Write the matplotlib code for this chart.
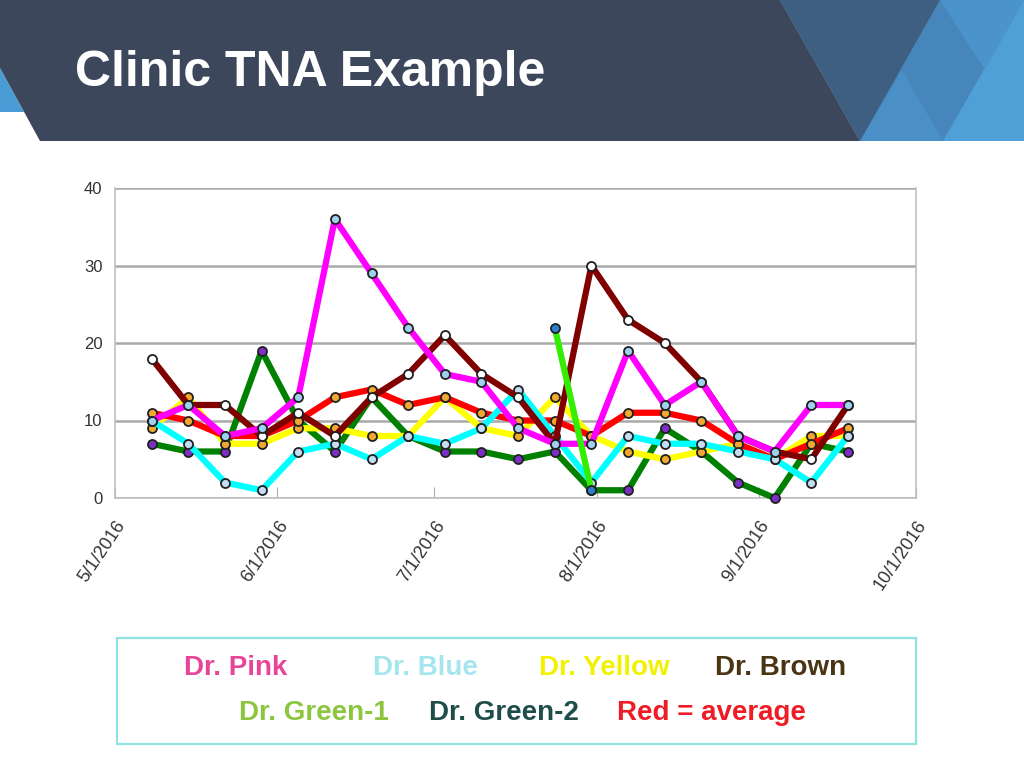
import matplotlib
matplotlib.use('Agg')
import matplotlib.pyplot as plt
from matplotlib.patches import Polygon, Rectangle
import numpy as np
import datetime as dt

nan = np.nan

# ---------------- data ----------------
date_strings = ['2016-05-08', '2016-05-15', '2016-05-22', '2016-05-29', '2016-06-05',
                '2016-06-12', '2016-06-19', '2016-06-26', '2016-07-03', '2016-07-10',
                '2016-07-17', '2016-07-24', '2016-07-31', '2016-08-07', '2016-08-14',
                '2016-08-21', '2016-08-28', '2016-09-04', '2016-09-11', '2016-09-18']

dr_pink = [10, 12, 8, 9, 13, 36, 29, 22, 16, 15, 9, 7, 7, 19, 12, 15, 8, 6, 12, 12]
dr_blue = [10, 7, 2, 1, 6, 7, 5, 8, 7, 9, 14, 8, 2, 8, 7, 7, 6, 5, 2, 8]
dr_yellow = [9, 13, 7, 7, 9, 9, 8, 8, 13, 9, 8, 13, 8, 6, 5, 6, 7, 5, 8, 8]
dr_brown = [18, 12, 12, 8, 11, 8, 13, 16, 21, 16, 13, 7, 30, 23, 20, 15, 8, 6, 5, 12]
dr_green1 = [nan, nan, nan, nan, nan, nan, nan, nan, nan, nan, nan, 22, 1, nan, nan, nan, nan, nan, nan, nan]
dr_green2 = [7, 6, 6, 19, 10, 6, 13, 8, 6, 6, 5, 6, 1, 1, 9, 6, 2, 0, 7, 6]
average = [11, 10, 8, 8, 10, 13, 14, 12, 13, 11, 10, 10, 8, 11, 11, 10, 7, 5, 7, 9]

tick_dates = ['2016-05-01', '2016-06-01', '2016-07-01', '2016-08-01', '2016-09-01', '2016-10-01']
tick_labels = ['5/1/2016', '6/1/2016', '7/1/2016', '8/1/2016', '9/1/2016', '10/1/2016']
y_ticks = [0, 10, 20, 30, 40]

legend_row1 = ['Dr. Pink', 'Dr. Blue', 'Dr. Yellow', 'Dr. Brown']
legend_row2 = ['Dr. Green-1', 'Dr. Green-2', 'Red = average']

title = 'Clinic TNA Example'

# ---------------- figure ----------------
FONT = ['Liberation Sans', 'DejaVu Sans']
plt.rcParams['font.family'] = FONT

fig = plt.figure(figsize=(10.24, 7.68), dpi=100)
fig.patch.set_facecolor('white')

bg = fig.add_axes([0, 0, 1, 1])
bg.set_xlim(0, 1024)
bg.set_ylim(768, 0)
bg.axis('off')

# header shapes
bg.add_patch(Polygon([(0, 68), (0, 112), (24, 112)], closed=True, fc='#4a9bd5', ec='none'))
bg.add_patch(Polygon([(780, 0), (1024, 0), (1024, 141), (860, 141)], closed=True, fc='#4686bb', ec='none'))
bg.add_patch(Polygon([(780, 0), (940, 0), (860, 141)], closed=True, fc='#3f5f82', ec='none'))
bg.add_patch(Polygon([(860, 141), (943, 141), (902, 70)], closed=True, fc='#4a8fc6', ec='none'))
bg.add_patch(Polygon([(943, 141), (1024, 0), (1024, 141)], closed=True, fc='#50a0d8', ec='none'))
bg.add_patch(Polygon([(940, 0), (1024, 0), (985, 70)], closed=True, fc='#4b93cb', ec='none'))
bg.add_patch(Polygon([(0, 0), (780, 0), (860, 141), (40, 141), (0, 68)], closed=True,
                     fc='#3c475c', ec='none'))
bg.text(75, 86, title, color='white', fontsize=36, fontweight='bold',
        va='baseline', ha='left')

# legend box
bg.add_patch(Rectangle((117, 638), 799, 106, fc='none', ec='#8fe3e3', lw=1.6))
row1_x = [236, 425, 604, 781]
row1_c = ['#e8459a', '#a5e6ee', '#f2f200', '#4a3414']
for lab, x, c in zip(legend_row1, row1_x, row1_c):
    bg.text(x, 668, lab, color=c, fontsize=20, fontweight='bold', ha='center', va='center')
row2_x = [314, 504, 711]
row2_c = ['#8cc63f', '#1f4d4a', '#ee1c24']
for lab, x, c in zip(legend_row2, row2_x, row2_c):
    bg.text(x, 713, lab, color=c, fontsize=20, fontweight='bold', ha='center', va='center')

# ---------------- chart ----------------
ax = fig.add_axes([115 / 1024, 1 - 498 / 768, 801 / 1024, 310 / 768])
x = [dt.datetime.strptime(s, '%Y-%m-%d') for s in date_strings]
tx = [dt.datetime.strptime(s, '%Y-%m-%d') for s in tick_dates]

series = [
    (dr_green2, '#008000', '#7b2fc4', 3),
    (dr_yellow, '#ffff00', '#f0a830', 4),
    (average, '#ff0000', '#f0a830', 5),
    (dr_blue, '#00ffff', '#c6dcf2', 6),
    (dr_brown, '#800000', '#ffffff', 7),
    (dr_pink, '#ff00ff', '#9fd0f0', 8),
    (dr_green1, '#33ee00', '#2f7fd0', 9),
]
for vals, lc, mc, z in series:
    ax.plot(x, vals, color=lc, lw=4.5, marker='o', markersize=6.5,
            markerfacecolor=mc, markeredgecolor='#202020', markeredgewidth=1.3,
            zorder=z, solid_joinstyle='round', clip_on=False)

ax.set_xlim(tx[0], tx[-1])
ax.set_ylim(0, 40)
ax.set_yticks(y_ticks)
ax.set_yticklabels([str(v) for v in y_ticks], fontsize=12, color='#333333')
ax.set_xticks(tx)
ax.set_xticklabels(tick_labels, rotation=56, ha='right', va='top', rotation_mode='anchor',
                   fontsize=13, color='#333333')
ax.tick_params(axis='x', direction='in', length=8, color='#aaaaaa', pad=14)
ax.tick_params(axis='y', length=0, pad=9)
ax.grid(axis='y', color='#a9a9a9', lw=1.8, zorder=1)
ax.set_axisbelow(True)
for s in ['left', 'right', 'bottom']:
    ax.spines[s].set_color('#c0c0c0')
    ax.spines[s].set_linewidth(1.2)
ax.spines['top'].set_visible(False)
ax.set_facecolor('white')

fig.savefig('out.png', dpi=100)
